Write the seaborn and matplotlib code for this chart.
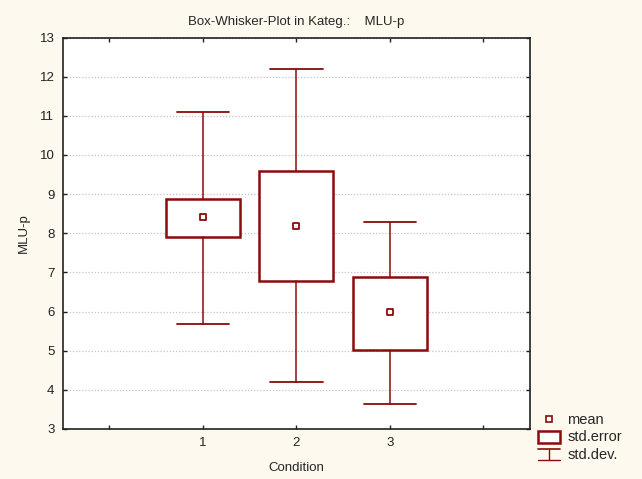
import matplotlib
matplotlib.use("Agg")
import matplotlib.pyplot as plt
import seaborn as sns
import pandas as pd
from matplotlib.lines import Line2D
from matplotlib.patches import Rectangle
from matplotlib.legend_handler import HandlerBase

# ---- data ----
conditions = [1, 2, 3]
means = [8.41, 8.19, 5.98]
se_low = [7.91, 6.79, 5.02]
se_high = [8.88, 9.59, 6.89]
sd_low = [5.68, 4.20, 3.63]
sd_high = [11.10, 12.20, 8.29]
x_ticks = [0, 1, 2, 3, 4]
x_ticklabels = ["", "1", "2", "3", ""]
y_ticks = list(range(3, 14))

RED = "#8B0A0A"
BG = "#FEF9EE"

sns.set_theme(style="ticks")
plt.rcParams["font.family"] = ["Liberation Sans", "DejaVu Sans"]

fig = plt.figure(figsize=(6.42, 4.79), dpi=100, facecolor=BG)
ax = fig.add_axes([0.0977, 0.1044, 0.7278, 0.8173])
ax.set_facecolor("white")

stats = []
for c, m, l, h, wl, wh in zip(conditions, means, se_low, se_high, sd_low, sd_high):
    stats.append(dict(med=m, q1=l, q3=h, whislo=wl, whishi=wh, fliers=[], label=str(c)))

ax.bxp(stats, positions=conditions, widths=0.79, showfliers=False,
       patch_artist=True, manage_ticks=False,
       boxprops=dict(facecolor="white", edgecolor=RED, linewidth=1.8),
       medianprops=dict(linewidth=0, color="none"),
       whiskerprops=dict(color=RED, linewidth=1.1),
       capprops=dict(color=RED, linewidth=1.3),
       capwidths=0.56, zorder=3)

df = pd.DataFrame({"Condition": conditions, "mean": means})
sns.scatterplot(data=df, x="Condition", y="mean", marker="s", s=22,
                facecolor="white", edgecolor=RED, linewidth=1.3, ax=ax, zorder=5,
                legend=False)

ax.set_xlim(-0.5, 4.5)
ax.set_ylim(3, 13)
ax.set_xticks(x_ticks)
ax.set_xticklabels(x_ticklabels)
ax.set_yticks(y_ticks)
ax.tick_params(axis="both", direction="in", length=3, width=1, labelsize=9.5,
               colors="#222222", top=True, right=True, pad=6)
ax.yaxis.grid(True, linestyle=(0, (1, 1.5)), color="#C4C4C4", linewidth=0.9)
ax.xaxis.grid(False)
ax.set_axisbelow(True)
for sp in ax.spines.values():
    sp.set_color("#222222")
    sp.set_linewidth(1.2)

ax.set_xlabel("Condition", fontsize=9.5, labelpad=9)
ax.set_ylabel("MLU-p", fontsize=9.5, labelpad=7)
ax.set_title("Box-Whisker-Plot in Kateg.:    MLU-p", fontsize=9.5, pad=9)


class SDHandler(HandlerBase):
    def create_artists(self, legend, orig, xd, yd, w, h, fs, trans):
        top = Line2D([xd, xd + w], [yd + h, yd + h], color=RED, lw=1.2, transform=trans)
        mid = Line2D([xd + w / 2, xd + w / 2], [yd - 1, yd + h], color=RED, lw=1.0, transform=trans)
        bot = Line2D([xd, xd + w], [yd - 1, yd - 1], color=RED, lw=1.0, transform=trans)
        return [top, mid, bot]


class SEHandler(HandlerBase):
    def create_artists(self, legend, orig, xd, yd, w, h, fs, trans):
        r = Rectangle((xd, yd - 1), w, h + 1, facecolor="white", edgecolor=RED,
                      lw=1.8, transform=trans)
        return [r]


class Dummy:
    pass


sd_handle = Dummy()
se_handle = Dummy()
mean_handle = Line2D([], [], marker="s", linestyle="none", markersize=4.5,
                     markerfacecolor="white", markeredgecolor=RED, markeredgewidth=1.2)

fig.legend([mean_handle, se_handle, sd_handle], ["mean", "std.error", "std.dev."],
           handler_map={sd_handle: SDHandler(), se_handle: SEHandler()},
           loc="lower left", bbox_to_anchor=(0.822, 0.014), frameon=False,
           fontsize=10.5, handlelength=1.5, handletextpad=0.5, labelspacing=0.25,
           borderpad=0.2)

fig.savefig("out.png", dpi=100, facecolor=BG)
